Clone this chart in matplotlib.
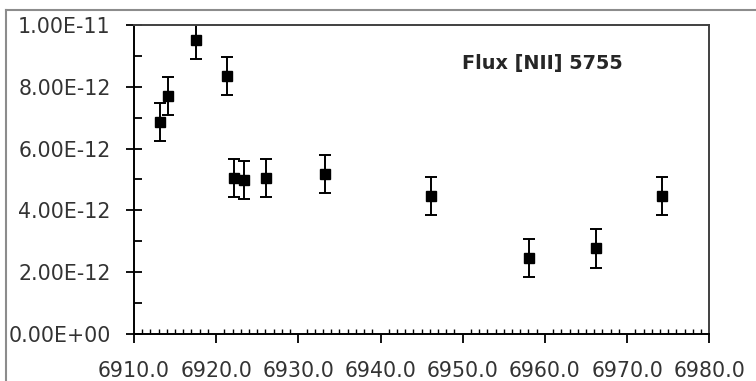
import matplotlib.pyplot as plt
from matplotlib.ticker import MultipleLocator, FormatStrFormatter, FuncFormatter
from matplotlib.lines import Line2D

# [NII] 5755 flux measurements
jd = [6913.2, 6914.2, 6917.6, 6921.3, 6922.2, 6923.4, 6926.1,
      6933.2, 6946.2, 6958.1, 6966.2, 6974.2]
flux = [6.87e-12, 7.70e-12, 9.51e-12, 8.35e-12, 5.04e-12, 4.98e-12, 5.04e-12,
        5.18e-12, 4.46e-12, 2.45e-12, 2.77e-12, 4.47e-12]
flux_err = [0.62e-12] * 12

fig = plt.figure(figsize=(7.56, 3.81), dpi=100)
ax = fig.add_axes([0.1772, 0.1234, 0.7610, 0.8110])

# chart frame (left and top edges only, the rest runs off the image)
fx, fy = 5.5 / 756, 1 - 9.5 / 381
fig.add_artist(Line2D([fx, fx], [0, fy], transform=fig.transFigure,
                      color="#8c8c8c", linewidth=1.5))
fig.add_artist(Line2D([fx, 1], [fy, fy], transform=fig.transFigure,
                      color="#8c8c8c", linewidth=1.5))

ax.errorbar(jd, flux, yerr=flux_err, fmt="s", color="black", markersize=6.8,
            elinewidth=1.4, capsize=4, capthick=1.4, clip_on=True)

ax.set_xlim(6910, 6980)
ax.set_ylim(0, 1e-11)

ax.xaxis.set_major_locator(MultipleLocator(10))
ax.xaxis.set_minor_locator(MultipleLocator(1))
ax.xaxis.set_major_formatter(FormatStrFormatter("%.1f"))
ax.yaxis.set_major_locator(MultipleLocator(2e-12))
ax.yaxis.set_minor_locator(MultipleLocator(1e-12))


def sci(v, pos):
    if v == 0:
        return "0.00E+00"
    m, e = f"{v:.2E}".split("E")
    return f"{m}E{int(e)}"


ax.yaxis.set_major_formatter(FuncFormatter(sci))
ax.xaxis.offsetText.set_visible(False)
ax.yaxis.offsetText.set_visible(False)

for s in ["left", "bottom"]:
    ax.spines[s].set_linewidth(1.4)
    ax.spines[s].set_color("black")
for s in ["top", "right"]:
    ax.spines[s].set_linewidth(1.4)
    ax.spines[s].set_color("#404040")

ax.tick_params(axis="y", which="major", direction="inout", length=11.5,
               width=1.3, pad=11, labelsize=14.8, labelcolor="#333333")
ax.tick_params(axis="y", which="minor", direction="in", length=5.5, width=1.3)
ax.tick_params(axis="x", which="major", direction="out", length=6.5,
               width=1.3, pad=13, labelsize=14.8, labelcolor="#333333")
ax.tick_params(axis="x", which="minor", direction="in", length=3.5, width=1.0)

ax.text(0.571, 0.874, "Flux [NII] 5755", transform=ax.transAxes,
        fontsize=13.9, fontweight="bold", color="#262626",
        ha="left", va="center")

fig.savefig("out.png", dpi=100)
